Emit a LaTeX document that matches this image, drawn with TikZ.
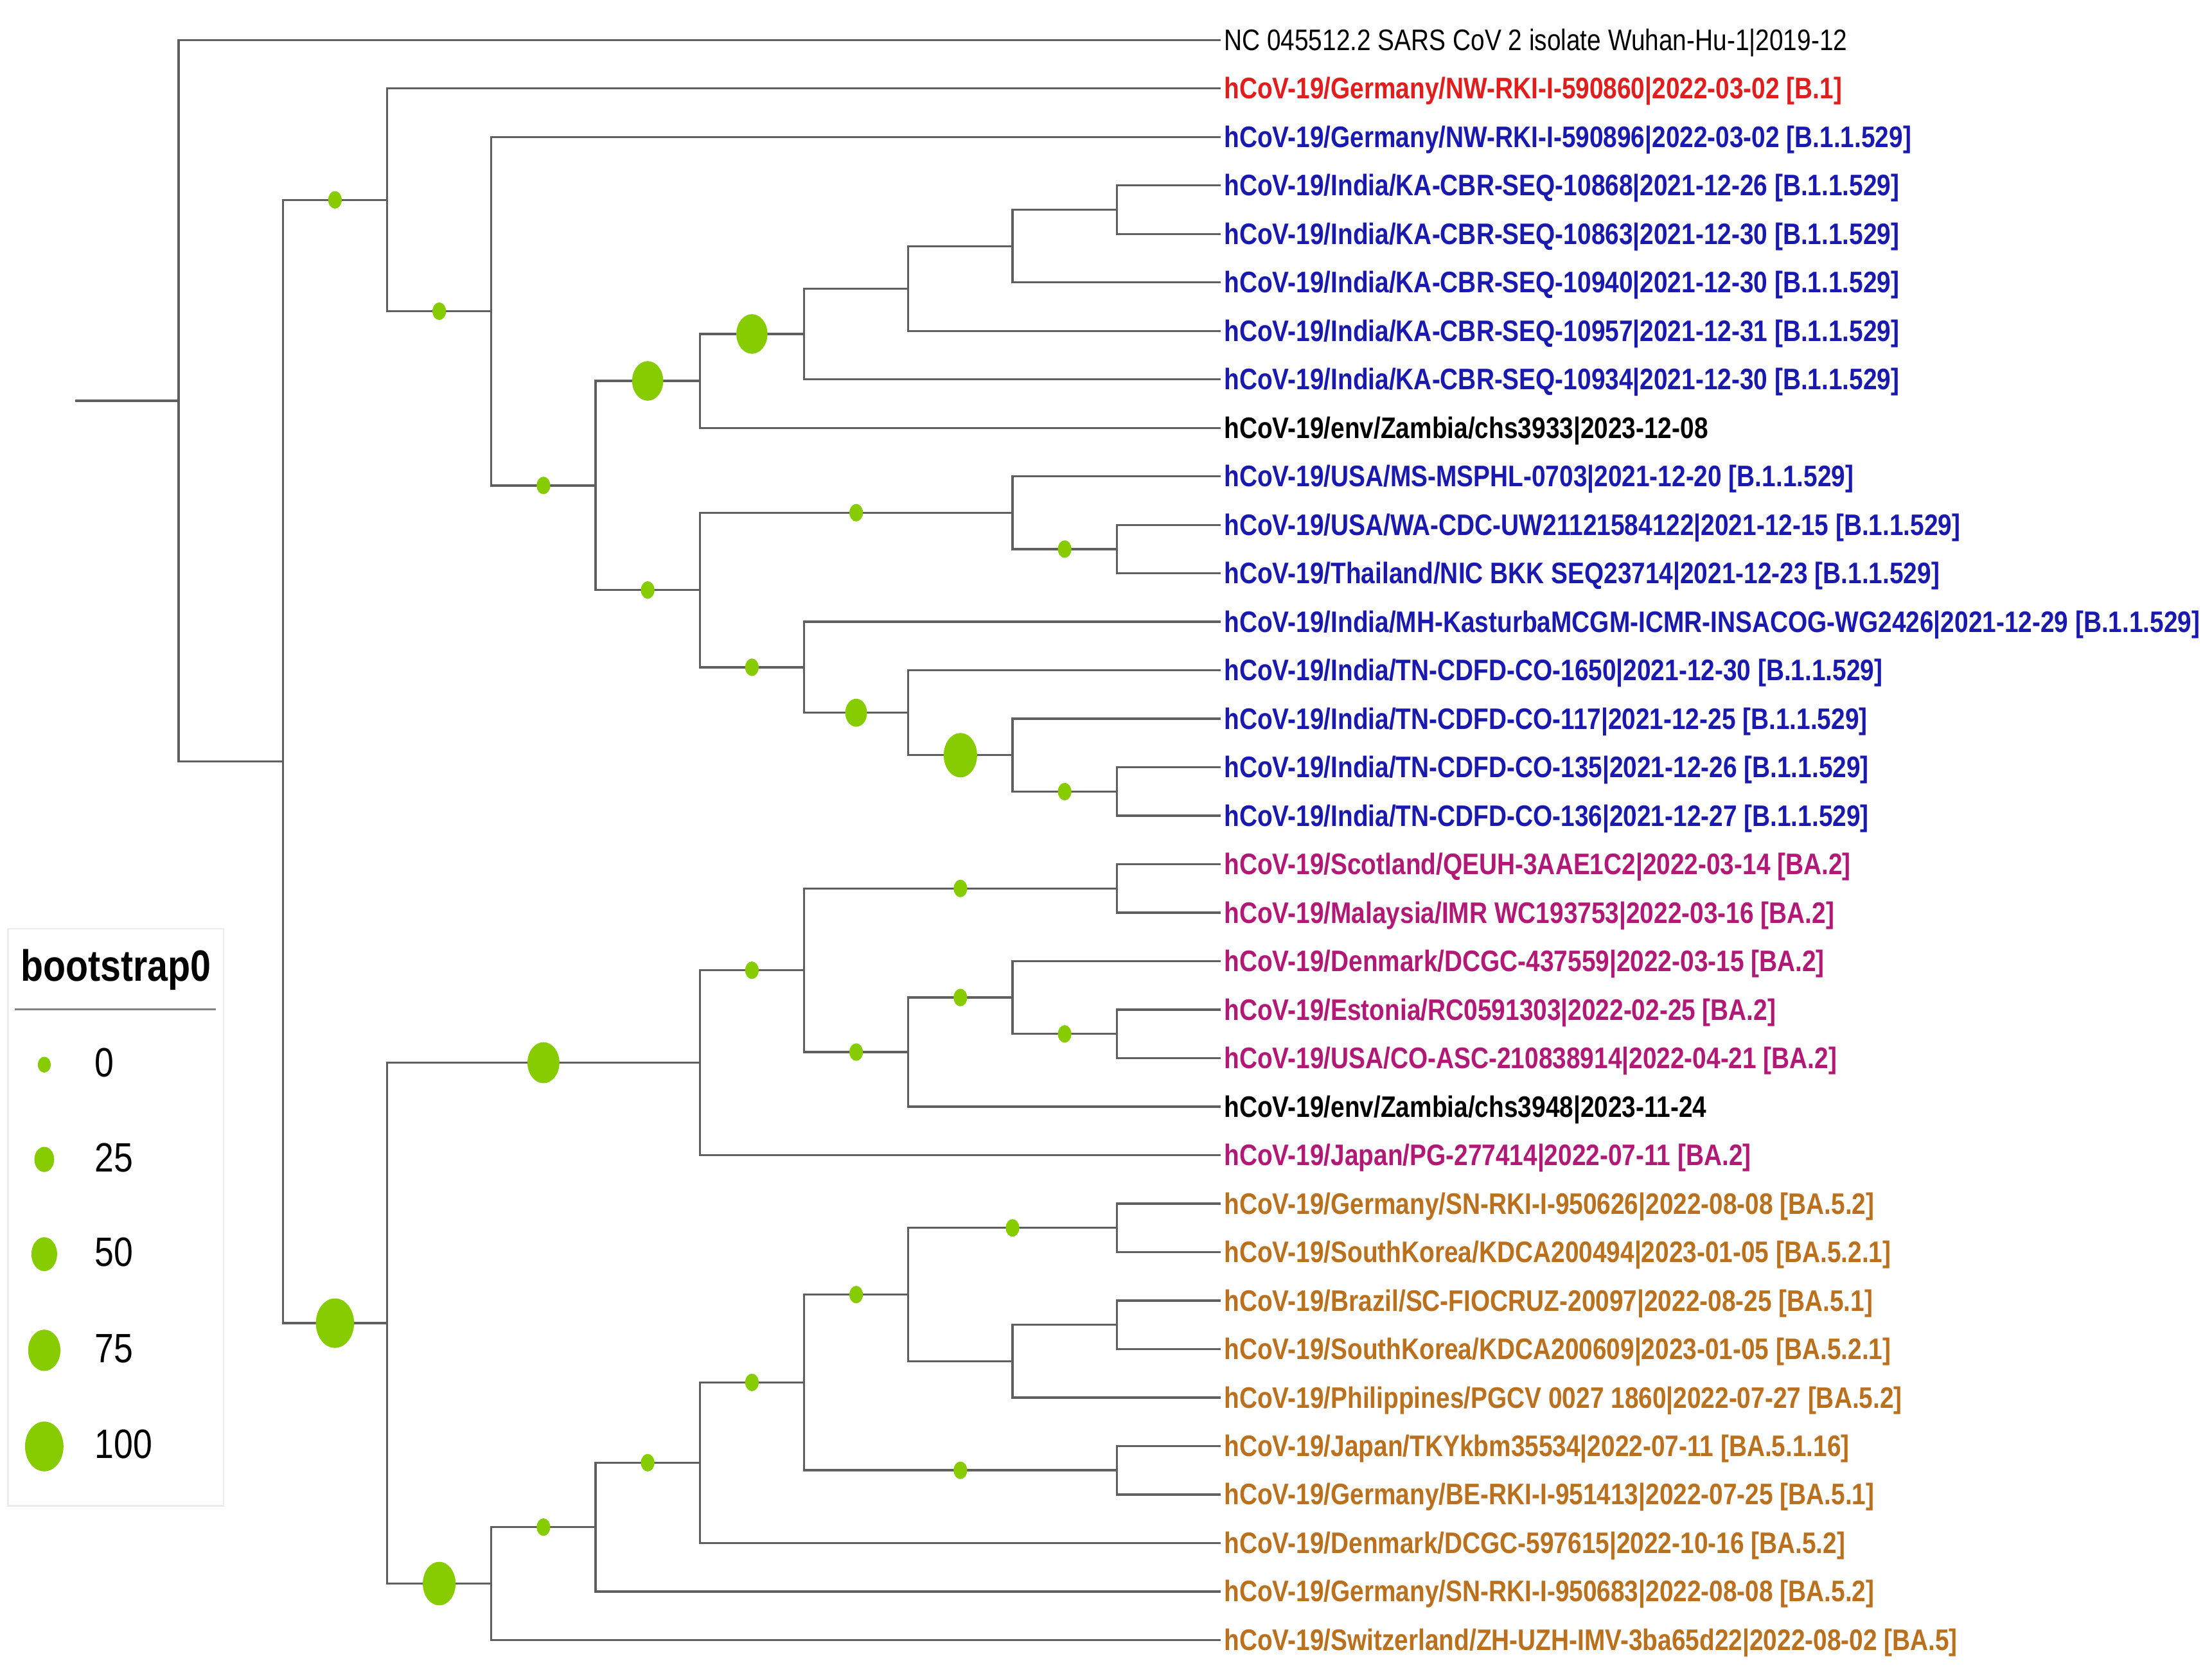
\documentclass[tikz,border=0pt]{standalone}
\usepackage{fontspec}
\setmainfont{Liberation Sans}[FakeStretch=0.84]
\usetikzlibrary{calc}
\definecolor{tred}{RGB}{225,30,30}
\definecolor{tblue}{RGB}{25,25,175}
\definecolor{tmag}{RGB}{178,24,118}
\definecolor{torange}{RGB}{186,112,28}
\definecolor{dotgreen}{RGB}{135,204,0}
\definecolor{branchgray}{RGB}{95,95,95}
\definecolor{legborder}{RGB}{236,236,236}
\definecolor{legline}{RGB}{130,130,130}
\newcommand\bsdot[4]{\fill[dotgreen] ($(#1 |- #2)!0.5!(#2)$) ellipse [x radius=#3pt, y radius=#4pt];}
\begin{document}
\begin{tikzpicture}[x=1pt,y=-1pt,
  branch/.style={draw=branchgray, line width=1.5pt},
  lab/.style={anchor=base west, inner sep=0pt, yshift=-7.3pt, xshift=2pt, font=\fontsize{21}{21}\selectfont\bfseries},
  labreg/.style={anchor=base west, inner sep=0pt, yshift=-7.3pt, xshift=2pt, font=\fontsize{21}{21}\selectfont},
  legtitle/.style={anchor=base, inner sep=0pt, font=\fontsize{31}{31}\selectfont\bfseries},
  legnum/.style={anchor=base west, inner sep=0pt, font=\fontsize{29}{29}\selectfont}]
\useasboundingbox (0,0) rectangle (1564,1179.7);
\fill[white] (0,0) rectangle (1564,1179.7);
% leaf tips
\foreach \i in {1,...,34} {\coordinate (e\i) at (863.3,{28.3+(\i-1)*34.29});}
% internal nodes
\coordinate (r0) at (53,283.45);
\coordinate (nRoot) at (126.3,283.45);
\coordinate (nA) at (200,538.6);
\coordinate (nB) at (273.7,141.35);
\coordinate (nD) at (347.4,220.1);
\coordinate (nE) at (421.1,343.35);
\coordinate (nF) at (494.8,269.4);
\coordinate (nH) at (568.5,236.2);
\coordinate (nI) at (642.2,204.05);
\coordinate (nJ) at (715.9,174.1);
\coordinate (nK) at (789.6,148.35);
\coordinate (nG) at (494.8,417.3);
\coordinate (nL) at (715.9,362.6);
\coordinate (nM) at (789.6,388.35);
\coordinate (nN) at (568.5,471.95);
\coordinate (nO) at (642.2,504.1);
\coordinate (nP) at (715.9,534.1);
\coordinate (nQ) at (789.6,559.85);
\coordinate (nC) at (273.7,935.8);
\coordinate (nR) at (494.8,751.6);
\coordinate (nT) at (568.5,686.2);
\coordinate (nU) at (789.6,628.35);
\coordinate (nV) at (642.2,744.1);
\coordinate (nW) at (715.9,705.5);
\coordinate (nX) at (789.6,731.25);
\coordinate (nS) at (347.4,1120);
\coordinate (nY) at (421.1,1080.05);
\coordinate (nZ) at (494.8,1034.5);
\coordinate (nAA) at (568.5,977.7);
\coordinate (nAB) at (642.2,915.6);
\coordinate (nAD) at (789.6,868.45);
\coordinate (nAE) at (715.9,962.8);
\coordinate (nAF) at (789.6,937.05);
\coordinate (nAC) at (789.6,1039.85);
% branches
\draw[branch] (r0) -- (nRoot);
\draw[branch] (nRoot) |- (e1);
\draw[branch] (nRoot) |- (nA);
\draw[branch] (nA) |- (nB);
\draw[branch] (nA) |- (nC);
\draw[branch] (nB) |- (e2);
\draw[branch] (nB) |- (nD);
\draw[branch] (nD) |- (e3);
\draw[branch] (nD) |- (nE);
\draw[branch] (nE) |- (nF);
\draw[branch] (nE) |- (nG);
\draw[branch] (nF) |- (nH);
\draw[branch] (nF) |- (e9);
\draw[branch] (nH) |- (nI);
\draw[branch] (nH) |- (e8);
\draw[branch] (nI) |- (nJ);
\draw[branch] (nI) |- (e7);
\draw[branch] (nJ) |- (nK);
\draw[branch] (nJ) |- (e6);
\draw[branch] (nK) |- (e4);
\draw[branch] (nK) |- (e5);
\draw[branch] (nG) |- (nL);
\draw[branch] (nG) |- (nN);
\draw[branch] (nL) |- (e10);
\draw[branch] (nL) |- (nM);
\draw[branch] (nM) |- (e11);
\draw[branch] (nM) |- (e12);
\draw[branch] (nN) |- (e13);
\draw[branch] (nN) |- (nO);
\draw[branch] (nO) |- (e14);
\draw[branch] (nO) |- (nP);
\draw[branch] (nP) |- (e15);
\draw[branch] (nP) |- (nQ);
\draw[branch] (nQ) |- (e16);
\draw[branch] (nQ) |- (e17);
\draw[branch] (nC) |- (nR);
\draw[branch] (nC) |- (nS);
\draw[branch] (nR) |- (nT);
\draw[branch] (nR) |- (e24);
\draw[branch] (nT) |- (nU);
\draw[branch] (nT) |- (nV);
\draw[branch] (nU) |- (e18);
\draw[branch] (nU) |- (e19);
\draw[branch] (nV) |- (nW);
\draw[branch] (nV) |- (e23);
\draw[branch] (nW) |- (e20);
\draw[branch] (nW) |- (nX);
\draw[branch] (nX) |- (e21);
\draw[branch] (nX) |- (e22);
\draw[branch] (nS) |- (nY);
\draw[branch] (nS) |- (e34);
\draw[branch] (nY) |- (nZ);
\draw[branch] (nY) |- (e33);
\draw[branch] (nZ) |- (nAA);
\draw[branch] (nZ) |- (e32);
\draw[branch] (nAA) |- (nAB);
\draw[branch] (nAA) |- (nAC);
\draw[branch] (nAB) |- (nAD);
\draw[branch] (nAB) |- (nAE);
\draw[branch] (nAD) |- (e25);
\draw[branch] (nAD) |- (e26);
\draw[branch] (nAE) |- (nAF);
\draw[branch] (nAE) |- (e29);
\draw[branch] (nAF) |- (e27);
\draw[branch] (nAF) |- (e28);
\draw[branch] (nAC) |- (e30);
\draw[branch] (nAC) |- (e31);
% bootstrap dots
\bsdot{nA}{nB}{4.8}{6.2}
\bsdot{nA}{nC}{13.5}{17.5}
\bsdot{nB}{nD}{4.8}{6.2}
\bsdot{nD}{nE}{4.8}{6.2}
\bsdot{nE}{nF}{11}{14}
\bsdot{nE}{nG}{4.8}{6.2}
\bsdot{nF}{nH}{11}{14}
\bsdot{nG}{nL}{4.8}{6.2}
\bsdot{nL}{nM}{4.8}{6.2}
\bsdot{nG}{nN}{4.8}{6.2}
\bsdot{nN}{nO}{7.7}{9.9}
\bsdot{nO}{nP}{11.8}{15.7}
\bsdot{nP}{nQ}{4.8}{6.2}
\bsdot{nC}{nR}{11.3}{14.5}
\bsdot{nC}{nS}{11.6}{15.4}
\bsdot{nR}{nT}{4.8}{6.2}
\bsdot{nT}{nU}{4.8}{6.2}
\bsdot{nT}{nV}{4.8}{6.2}
\bsdot{nV}{nW}{4.8}{6.2}
\bsdot{nW}{nX}{4.8}{6.2}
\bsdot{nS}{nY}{4.8}{6.2}
\bsdot{nY}{nZ}{4.8}{6.2}
\bsdot{nZ}{nAA}{4.8}{6.2}
\bsdot{nAA}{nAB}{4.8}{6.2}
\bsdot{nAB}{nAD}{4.8}{6.2}
\bsdot{nAA}{nAC}{4.8}{6.2}
% labels
\node[labreg] (t1) at (e1) {NC 045512.2 SARS CoV 2 isolate Wuhan-Hu-1|2019-12};
\node[lab,text=tred] (t2) at (e2) {hCoV-19/Germany/NW-RKI-I-590860|2022-03-02 [B.1]};
\node[lab,text=tblue] (t3) at (e3) {hCoV-19/Germany/NW-RKI-I-590896|2022-03-02 [B.1.1.529]};
\node[lab,text=tblue] (t4) at (e4) {hCoV-19/India/KA-CBR-SEQ-10868|2021-12-26 [B.1.1.529]};
\node[lab,text=tblue] (t5) at (e5) {hCoV-19/India/KA-CBR-SEQ-10863|2021-12-30 [B.1.1.529]};
\node[lab,text=tblue] (t6) at (e6) {hCoV-19/India/KA-CBR-SEQ-10940|2021-12-30 [B.1.1.529]};
\node[lab,text=tblue] (t7) at (e7) {hCoV-19/India/KA-CBR-SEQ-10957|2021-12-31 [B.1.1.529]};
\node[lab,text=tblue] (t8) at (e8) {hCoV-19/India/KA-CBR-SEQ-10934|2021-12-30 [B.1.1.529]};
\node[lab,text=black] (t9) at (e9) {hCoV-19/env/Zambia/chs3933|2023-12-08};
\node[lab,text=tblue] (t10) at (e10) {hCoV-19/USA/MS-MSPHL-0703|2021-12-20 [B.1.1.529]};
\node[lab,text=tblue] (t11) at (e11) {hCoV-19/USA/WA-CDC-UW21121584122|2021-12-15 [B.1.1.529]};
\node[lab,text=tblue] (t12) at (e12) {hCoV-19/Thailand/NIC BKK SEQ23714|2021-12-23 [B.1.1.529]};
\node[lab,text=tblue] (t13) at (e13) {hCoV-19/India/MH-KasturbaMCGM-ICMR-INSACOG-WG2426|2021-12-29 [B.1.1.529]};
\node[lab,text=tblue] (t14) at (e14) {hCoV-19/India/TN-CDFD-CO-1650|2021-12-30 [B.1.1.529]};
\node[lab,text=tblue] (t15) at (e15) {hCoV-19/India/TN-CDFD-CO-117|2021-12-25 [B.1.1.529]};
\node[lab,text=tblue] (t16) at (e16) {hCoV-19/India/TN-CDFD-CO-135|2021-12-26 [B.1.1.529]};
\node[lab,text=tblue] (t17) at (e17) {hCoV-19/India/TN-CDFD-CO-136|2021-12-27 [B.1.1.529]};
\node[lab,text=tmag] (t18) at (e18) {hCoV-19/Scotland/QEUH-3AAE1C2|2022-03-14 [BA.2]};
\node[lab,text=tmag] (t19) at (e19) {hCoV-19/Malaysia/IMR WC193753|2022-03-16 [BA.2]};
\node[lab,text=tmag] (t20) at (e20) {hCoV-19/Denmark/DCGC-437559|2022-03-15 [BA.2]};
\node[lab,text=tmag] (t21) at (e21) {hCoV-19/Estonia/RC0591303|2022-02-25 [BA.2]};
\node[lab,text=tmag] (t22) at (e22) {hCoV-19/USA/CO-ASC-210838914|2022-04-21 [BA.2]};
\node[lab,text=black] (t23) at (e23) {hCoV-19/env/Zambia/chs3948|2023-11-24};
\node[lab,text=tmag] (t24) at (e24) {hCoV-19/Japan/PG-277414|2022-07-11 [BA.2]};
\node[lab,text=torange] (t25) at (e25) {hCoV-19/Germany/SN-RKI-I-950626|2022-08-08 [BA.5.2]};
\node[lab,text=torange] (t26) at (e26) {hCoV-19/SouthKorea/KDCA200494|2023-01-05 [BA.5.2.1]};
\node[lab,text=torange] (t27) at (e27) {hCoV-19/Brazil/SC-FIOCRUZ-20097|2022-08-25 [BA.5.1]};
\node[lab,text=torange] (t28) at (e28) {hCoV-19/SouthKorea/KDCA200609|2023-01-05 [BA.5.2.1]};
\node[lab,text=torange] (t29) at (e29) {hCoV-19/Philippines/PGCV 0027 1860|2022-07-27 [BA.5.2]};
\node[lab,text=torange] (t30) at (e30) {hCoV-19/Japan/TKYkbm35534|2022-07-11 [BA.5.1.16]};
\node[lab,text=torange] (t31) at (e31) {hCoV-19/Germany/BE-RKI-I-951413|2022-07-25 [BA.5.1]};
\node[lab,text=torange] (t32) at (e32) {hCoV-19/Denmark/DCGC-597615|2022-10-16 [BA.5.2]};
\node[lab,text=torange] (t33) at (e33) {hCoV-19/Germany/SN-RKI-I-950683|2022-08-08 [BA.5.2]};
\node[lab,text=torange] (t34) at (e34) {hCoV-19/Switzerland/ZH-UZH-IMV-3ba65d22|2022-08-02 [BA.5]};
% legend
\draw[legborder, line width=1pt, fill=white] (5.7,657) rectangle (158,1065);
\node[legtitle] (legt) at (82,694) {bootstrap0};
\draw[legline, line width=1.5pt] (10.4,714) -- (152.6,714);
\fill[dotgreen] (31.3,753) ellipse [x radius=4.6pt, y radius=5.6pt];
\fill[dotgreen] (31.3,820) ellipse [x radius=7pt, y radius=8.9pt];
\fill[dotgreen] (31.3,887) ellipse [x radius=9.1pt, y radius=12pt];
\fill[dotgreen] (31.3,955) ellipse [x radius=11.4pt, y radius=14.6pt];
\fill[dotgreen] (31.3,1023) ellipse [x radius=13.6pt, y radius=17.6pt];
\node[legnum] (g0) at (67,761.6) {0};
\node[legnum] (g25) at (67,828.6) {25};
\node[legnum] (g50) at (67,895.6) {50};
\node[legnum] (g75) at (67,963.6) {75};
\node[legnum] (g100) at (67,1031.6) {100};
\end{tikzpicture}
\end{document}
